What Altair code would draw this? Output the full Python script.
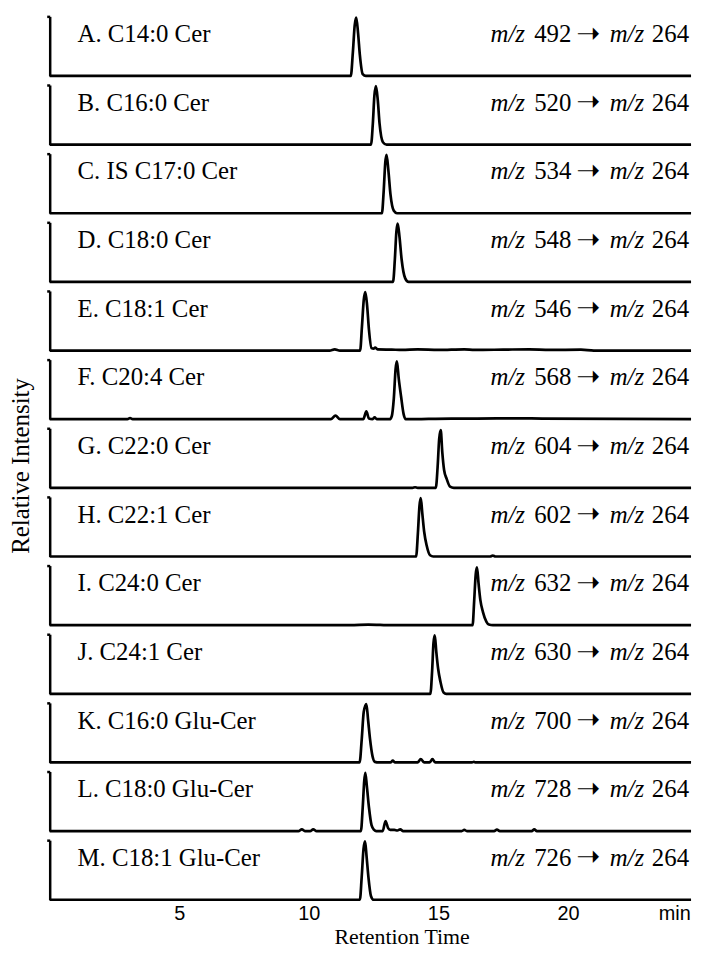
import altair as alt
import pandas as pd

letters = list("ABCDEFGHIJKLM")
labels = ["A. C14:0 Cer", "B. C16:0 Cer", "C. IS C17:0 Cer", "D. C18:0 Cer",
          "E. C18:1 Cer", "F. C20:4 Cer", "G. C22:0 Cer", "H. C22:1 Cer",
          "I. C24:0 Cer", "J. C24:1 Cer", "K. C16:0 Glu-Cer",
          "L. C18:0 Glu-Cer", "M. C18:1 Glu-Cer"]
precursor = ["492", "520", "534", "548", "546", "568", "604", "602",
             "632", "630", "700", "728", "726"]
product_ion = "264"

tick_values = [5, 10, 15, 20, 24.1]
x_domain = [0, 24.75]

t_A = [0, 11.62, 11.70, 11.77, 11.83, 11.90, 11.97, 12.08, 12.2, 24.75]
i_A = [0, 0, 0.40, 0.85, 0.98, 0.72, 0.35, 0.03, 0, 0]
t_B = [0, 12.40, 12.47, 12.53, 12.59, 12.66, 12.73, 12.86, 13.0, 24.75]
i_B = [0, 0, 0.35, 0.82, 0.98, 0.75, 0.35, 0.04, 0, 0]
t_C = [0, 12.82, 12.89, 12.95, 13.00, 13.07, 13.15, 13.28, 13.4, 24.75]
i_C = [0, 0, 0.38, 0.85, 0.98, 0.72, 0.32, 0.04, 0, 0]
t_D = [0, 13.25, 13.32, 13.38, 13.43, 13.50, 13.58, 13.72, 13.85, 24.75]
i_D = [0, 0, 0.38, 0.85, 0.98, 0.75, 0.38, 0.06, 0, 0]
t_E = [0, 10.8, 11.0, 11.2, 11.98, 12.05, 12.12, 12.18, 12.25, 12.32, 12.42,
       12.5, 12.56, 12.65, 13.2, 13.6, 14.2, 15.0, 16.0, 16.4, 17.5, 18.5,
       19.3, 20.5, 21.0, 24.75]
i_E = [0, 0, 0.02, 0, 0, 0.40, 0.85, 0.98, 0.75, 0.35, 0.04,
       0.03, 0.05, 0.02, 0.015, 0.01, 0.02, 0.01, 0.02, 0.01, 0.015, 0.02,
       0.01, 0.015, 0, 0]
t_F = [0, 3.0, 3.1, 3.2, 10.85, 11.03, 11.2, 12.1, 12.22, 12.32, 12.45,
       12.54, 12.62, 13.12, 13.2, 13.28, 13.35, 13.40, 13.47, 13.56, 13.66,
       13.74, 15.5, 16.5, 18.0, 19.0, 24.75]
i_F = [0, 0, 0.02, 0, 0, 0.06, 0, 0, 0.13, 0.01, 0,
       0.03, 0, 0, 0.05, 0.35, 0.85, 0.97, 0.68, 0.38, 0.08,
       0, 0.01, 0.01, 0.015, 0.01, 0]
t_G = [0, 14.0, 14.1, 14.2, 14.9, 14.97, 15.03, 15.09, 15.15, 15.22, 15.32,
       15.45, 15.6, 24.75]
i_G = [0, 0, 0.01, 0, 0, 0.35, 0.82, 0.97, 0.60, 0.30, 0.15,
       0.02, 0, 0]
t_H = [0, 14.14, 14.21, 14.27, 14.32, 14.38, 14.45, 14.55, 14.68, 14.8,
       17.0, 17.1, 17.2, 24.75]
i_H = [0, 0, 0.40, 0.85, 0.98, 0.72, 0.42, 0.18, 0.02, 0,
       0, 0.015, 0, 0]
t_I = [0, 11.6, 12.3, 13.2, 16.32, 16.38, 16.44, 16.49, 16.55, 16.62,
       16.72, 16.85, 16.95, 17.1, 24.75]
i_I = [0, 0, 0.01, 0, 0, 0.40, 0.85, 0.97, 0.70, 0.42,
       0.22, 0.06, 0.01, 0, 0]
t_J = [0, 14.69, 14.76, 14.81, 14.86, 14.92, 14.99, 15.08, 15.2, 15.3, 24.75]
i_J = [0, 0, 0.40, 0.85, 0.98, 0.70, 0.42, 0.20, 0.02, 0, 0]
t_K = [0, 11.96, 12.04, 12.12, 12.22, 12.29, 12.36, 12.46, 12.55, 12.7,
       13.15, 13.24, 13.33, 14.2, 14.32, 14.45, 14.66, 14.77, 14.88, 16.3,
       16.37, 16.45, 24.75]
i_K = [0, 0, 0.38, 0.85, 0.98, 0.70, 0.40, 0.10, 0.01, 0,
       0, 0.03, 0, 0, 0.055, 0, 0, 0.055, 0, 0,
       0.01, 0, 0]
t_L = [0, 9.6, 9.73, 9.86, 10.05, 10.17, 10.3, 12.01, 12.08, 12.14, 12.18,
       12.24, 12.32, 12.42, 12.52, 12.6, 12.85, 12.96, 13.06, 13.14, 13.3,
       13.42, 13.53, 13.64, 15.9, 16.0, 16.1, 17.15, 17.26, 17.37, 18.6,
       18.7, 18.8, 24.75]
i_L = [0, 0, 0.03, 0, 0, 0.03, 0, 0, 0.40, 0.85, 0.98,
       0.75, 0.40, 0.10, 0.02, 0, 0, 0.17, 0.05, 0.02, 0.02,
       0.01, 0.03, 0, 0, 0.02, 0, 0, 0.025, 0, 0,
       0.03, 0, 0]
t_M = [0, 11.97, 12.04, 12.11, 12.17, 12.23, 12.30, 12.40, 12.5, 24.75]
i_M = [0, 0, 0.38, 0.85, 0.98, 0.72, 0.38, 0.06, 0, 0]

times = [t_A, t_B, t_C, t_D, t_E, t_F, t_G, t_H, t_I, t_J, t_K, t_L, t_M]
intens = [i_A, i_B, i_C, i_D, i_E, i_F, i_G, i_H, i_I, i_J, i_K, i_L, i_M]

SERIF = "Liberation Serif"
FS = 25
PW, PH = 646, 60

y_axis = alt.Axis(title=None, labels=False, values=[1], tickSize=3,
                  tickWidth=2.5, tickColor="black", domainColor="black",
                  domainWidth=2.5, grid=False)
x_axis = alt.Axis(values=tick_values,
                  labelExpr="datum.value > 22 ? 'min' : datum.label",
                  ticks=False, tickSize=0, domain=False, grid=False,
                  labelFont="Liberation Sans", labelFontSize=20,
                  labelColor="black", labelPadding=4, labelFlush=False,
                  labelOverlap=False,
                  title="Retention Time", titleFont=SERIF,
                  titleFontSize=22, titleFontWeight="normal",
                  titleColor="black", titleX=354.5, titleY=49,
                  titleBaseline="bottom", titleAlign="center")

panels = []
n = len(letters)
for k in range(n):
    trace = pd.DataFrame({"t": times[k], "inten": intens[k]})
    info = pd.DataFrame({"label": [labels[k]], "prec": [precursor[k]],
                         "prod": [product_ion]})
    line = alt.Chart(trace).mark_line(
        color="black", strokeWidth=2.7, interpolate="monotone"
    ).encode(
        x=alt.X("t:Q", scale=alt.Scale(domain=x_domain, nice=False, zero=False),
                axis=x_axis if k == n - 1 else None),
        y=alt.Y("inten:Q", scale=alt.Scale(domain=[0, 1]), axis=y_axis),
    )
    tb = alt.Chart(info)
    common = dict(baseline="alphabetic", color="black")
    lab = tb.mark_text(align="left", font=SERIF, fontSize=FS, **common).encode(
        x=alt.value(28), y=alt.value(26), text="label:N")
    mz1 = tb.mark_text(align="left", font=SERIF, fontSize=FS, fontStyle="italic",
                       text="m/z", **common).encode(x=alt.value(444), y=alt.value(26))
    prec = tb.mark_text(align="left", font=SERIF, fontSize=FS, **common).encode(
        x=alt.value(488), y=alt.value(26), text="prec:N")
    arrow = tb.mark_text(align="center", font="DejaVu Sans", fontSize=29,
                         text="\u279d", **common).encode(x=alt.value(542.5), y=alt.value(26.5))
    mz2 = tb.mark_text(align="left", font=SERIF, fontSize=FS, fontStyle="italic",
                       text="m/z", **common).encode(x=alt.value(564), y=alt.value(26))
    prod = tb.mark_text(align="right", font=SERIF, fontSize=FS, **common).encode(
        x=alt.value(644), y=alt.value(26), text="prod:N")
    layers = [line, lab, mz1, prec, arrow, mz2, prod]
    if k == 6:
        ytitle = tb.mark_text(align="center", font=SERIF, fontSize=FS, angle=270,
                              text="Relative Intensity", **common).encode(
            x=alt.value(-21), y=alt.value(38))
        layers.append(ytitle)
    panels.append(alt.layer(*layers).properties(width=PW, height=PH))

chart = alt.vconcat(*panels, spacing=9.15, bounds="flush").properties(
    padding={"left": 0, "top": 0, "right": 0, "bottom": 0},
    background="white",
).configure_view(stroke=None)

chart.save("out.html", embed_options={"renderer": "svg", "actions": False})
